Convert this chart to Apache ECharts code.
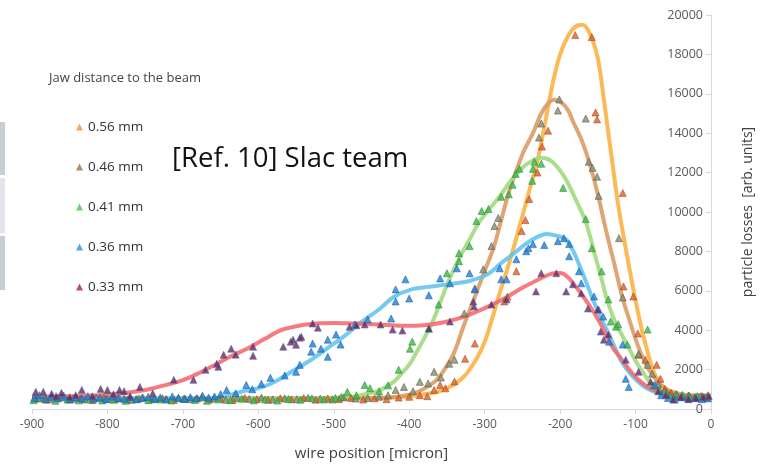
<!DOCTYPE html>
<html><head><meta charset="utf-8">
<script src="https://cdn.jsdelivr.net/npm/echarts/dist/echarts.min.js"></script>
<style>html,body{margin:0;padding:0;background:#fff}#c{width:763px;height:466px}</style>
</head><body><div id="c"></div>
<script>
const seriesNames = ['0.56 mm','0.46 mm','0.41 mm','0.36 mm','0.33 mm'];
const xTicks = [-900,-800,-700,-600,-500,-400,-300,-200,-100,0];

// fitted curves [wire position, losses]
const fit056 = [[-900,520],[-800,520],[-700,520],[-600,520],[-500,530],[-450,550],[-420,600],[-400,640],[-380,750],[-360,900],[-340,1250],[-325,1750],[-310,2600],[-300,3400],[-290,4600],[-280,5900],[-270,7100],[-260,8400],[-250,9800],[-240,11200],[-230,12600],[-220,14500],[-210,16500],[-200,18000],[-190,18900],[-180,19400],[-170,19500],[-160,19000],[-150,17800],[-143,16000],[-136,14000],[-130,12300],[-124,10600],[-117,9000],[-109,7300],[-100,5500],[-91,3900],[-84,2900],[-78,2100],[-70,1450],[-61,1050],[-50,830],[-38,720],[-20,670],[0,650]];
const fit046 = [[-900,530],[-700,530],[-500,540],[-450,560],[-420,600],[-400,720],[-390,850],[-375,1150],[-363,1500],[-350,2200],[-340,2900],[-328,4200],[-320,5000],[-310,6000],[-300,7000],[-288,8200],[-278,9600],[-268,11000],[-258,12100],[-248,13100],[-236,14000],[-225,15000],[-215,15550],[-208,15700],[-200,15600],[-190,15200],[-183,14600],[-172,13700],[-162,12600],[-150,10900],[-140,9200],[-130,7650],[-117,5600],[-108,4500],[-100,3550],[-92,2750],[-83,2050],[-72,1450],[-61,1050],[-50,850],[-35,720],[-15,680],[0,670]];
const fit041 = [[-900,540],[-600,540],[-520,560],[-490,590],[-472,640],[-455,780],[-442,900],[-430,1150],[-420,1400],[-410,1800],[-399,2300],[-390,2900],[-380,3600],[-370,4350],[-363,5000],[-355,5800],[-346,6650],[-337,7400],[-328,8050],[-318,8750],[-308,9450],[-295,10100],[-280,10800],[-265,11600],[-250,12250],[-237,12600],[-225,12750],[-212,12600],[-200,12100],[-190,11500],[-179,10600],[-166,9500],[-153,7700],[-145,6600],[-139,5700],[-130,4700],[-120,3900],[-109,3100],[-100,2450],[-91,1900],[-82,1400],[-74,1050],[-62,860],[-50,770],[-30,700],[0,680]];
const fit036 = [[-900,500],[-700,510],[-660,540],[-639,700],[-620,900],[-596,1100],[-575,1450],[-560,1800],[-547,2100],[-530,2500],[-508,3100],[-486,3700],[-464,4400],[-442,5000],[-420,5700],[-399,6050],[-375,6200],[-354,6300],[-335,6400],[-320,6500],[-301,6750],[-290,7000],[-280,7350],[-268,7700],[-258,8000],[-245,8400],[-232,8700],[-218,8880],[-205,8800],[-192,8600],[-183,8050],[-175,7350],[-166,6500],[-157,5600],[-148,4800],[-139,4080],[-130,3350],[-120,2500],[-109,1890],[-100,1500],[-91,1200],[-80,950],[-70,800],[-55,620],[-40,560],[-20,540],[0,540]];
const fit033 = [[-900,640],[-850,650],[-810,700],[-788,770],[-765,880],[-745,1000],[-720,1250],[-701,1450],[-680,1800],[-657,2250],[-635,2700],[-613,3100],[-592,3550],[-570,4000],[-550,4200],[-530,4320],[-500,4360],[-470,4340],[-440,4290],[-410,4220],[-380,4250],[-354,4400],[-330,4650],[-310,4950],[-290,5300],[-270,5700],[-250,6150],[-230,6550],[-213,6850],[-200,6900],[-190,6700],[-179,6200],[-170,5750],[-162,5300],[-152,4700],[-143,4080],[-130,3100],[-120,2600],[-113,2240],[-104,1800],[-96,1480],[-87,1200],[-78,1000],[-65,850],[-50,720],[-30,660],[0,640]];

// measured points [wire position, losses]
const pts056 = [[-895,520],[-881,470],[-866,560],[-850,480],[-836,530],[-820,450],[-805,560],[-790,500],[-774,470],[-758,540],[-742,490],[-727,560],[-712,460],[-697,520],[-681,550],[-665,480],[-650,530],[-634,460],[-618,560],[-602,500],[-587,470],[-571,540],[-556,490],[-540,560],[-524,470],[-508,530],[-493,500],[-477,560],[-461,480],[-446,540],[-430,500],[-414,580],[-400,620],[-386,700],[-376,650],[-367,970],[-359,1220],[-352,1050],[-340,1400],[-326,2550],[-313,3320],[-274,5460],[-270,5700],[-258,6990],[-251,9030],[-246,9590],[-241,10660],[-230,12000],[-224,13320],[-216,14130],[-180,18980],[-158,18880],[-153,15050],[-151,14700],[-117,10970],[-116,6220],[-103,5710],[-97,3830],[-96,2750],[-87,2500],[-72,2240],[-67,1530],[-61,1020],[-53,820],[-45,700],[-37,620],[-29,680],[-20,590],[-12,660],[-4,700]];
const pts046 = [[-892,560],[-877,500],[-861,590],[-846,520],[-830,480],[-815,570],[-800,510],[-784,550],[-768,470],[-753,590],[-737,520],[-722,480],[-706,560],[-690,500],[-675,590],[-659,530],[-643,470],[-628,560],[-612,510],[-596,580],[-581,490],[-565,540],[-549,500],[-534,570],[-518,520],[-502,480],[-487,590],[-471,530],[-455,560],[-440,620],[-428,700],[-418,970],[-407,1120],[-395,900],[-386,1380],[-375,1300],[-367,1890],[-358,1600],[-347,2300],[-340,2500],[-327,4850],[-313,6120],[-302,7090],[-291,8270],[-287,9290],[-282,9700],[-228,13780],[-225,14490],[-203,15150],[-201,15710],[-166,14740],[-162,12550],[-157,12240],[-151,11790],[-149,10820],[-122,8670],[-117,5660],[-96,2800],[-84,2240],[-78,1790],[-70,1250],[-62,900],[-54,700],[-46,760],[-38,620],[-30,680],[-22,560],[-14,640],[-6,600]];
const pts041 = [[-898,450],[-884,520],[-869,420],[-853,480],[-838,440],[-823,510],[-807,430],[-792,470],[-776,420],[-761,500],[-746,450],[-730,480],[-715,430],[-699,510],[-684,460],[-668,420],[-653,490],[-637,450],[-622,520],[-606,440],[-591,480],[-575,430],[-560,510],[-544,470],[-529,540],[-513,480],[-498,560],[-490,620],[-482,870],[-470,700],[-459,1220],[-452,1050],[-440,900],[-428,1200],[-414,1990],[-399,3060],[-396,3420],[-374,4080],[-361,5300],[-350,6890],[-334,7500],[-334,7910],[-320,8270],[-311,9540],[-304,10050],[-295,10150],[-278,10770],[-268,10900],[-263,11380],[-259,11930],[-254,12190],[-237,11580],[-236,12190],[-234,12550],[-225,12450],[-196,11220],[-166,9640],[-158,8160],[-145,6990],[-136,5560],[-133,4440],[-126,4180],[-123,4300],[-111,3270],[-84,4030],[-76,1200],[-68,950],[-58,760],[-48,650],[-38,720],[-28,600],[-18,660],[-8,580]];
const pts036 = [[-897,560],[-890,700],[-882,520],[-874,620],[-866,540],[-858,680],[-850,500],[-842,600],[-834,540],[-826,650],[-818,520],[-810,580],[-802,500],[-794,640],[-786,560],[-778,520],[-770,600],[-762,500],[-754,560],[-746,620],[-738,520],[-730,580],[-722,510],[-714,640],[-706,560],[-698,520],[-690,600],[-682,540],[-674,680],[-666,580],[-658,640],[-650,760],[-642,970],[-630,800],[-616,1220],[-608,1000],[-596,1280],[-584,1580],[-565,1700],[-550,1890],[-545,2240],[-530,2910],[-528,3320],[-517,3060],[-508,2650],[-508,3520],[-497,3780],[-491,3270],[-472,4290],[-455,4540],[-424,4590],[-418,5460],[-418,6070],[-405,6580],[-400,5610],[-374,5770],[-359,6630],[-346,6380],[-337,7140],[-320,6890],[-313,6070],[-280,7140],[-278,6580],[-271,6580],[-258,7600],[-245,8010],[-242,8160],[-236,8370],[-221,8320],[-203,8520],[-195,8670],[-188,8370],[-188,7750],[-175,6990],[-172,6380],[-155,5710],[-149,5050],[-143,4690],[-135,3420],[-117,3270],[-113,1530],[-109,1120],[-74,1220],[-66,700],[-57,560],[-48,480],[-39,600],[-30,520],[-21,560],[-12,500],[-4,540]];
const pts033 = [[-895,870],[-885,870],[-874,770],[-868,650],[-861,820],[-850,600],[-842,700],[-834,970],[-820,650],[-809,1020],[-800,970],[-792,750],[-784,970],[-778,900],[-770,650],[-757,1120],[-740,800],[-712,1480],[-686,1480],[-670,1990],[-655,2300],[-653,2140],[-646,2750],[-636,3060],[-630,2760],[-607,3160],[-607,2700],[-567,3160],[-557,3420],[-550,3260],[-545,3620],[-554,3520],[-543,3670],[-528,4340],[-521,4130],[-479,4180],[-470,4250],[-459,4290],[-438,4290],[-422,4030],[-409,3980],[-374,4080],[-346,4440],[-315,5460],[-314,5200],[-291,5300],[-271,5560],[-232,5970],[-225,6890],[-205,6890],[-192,5970],[-183,6330],[-172,5870],[-163,5100],[-150,5050],[-146,3930],[-142,3520],[-136,3780],[-113,2500],[-96,1890],[-80,1380],[-70,900],[-60,700],[-50,480],[-40,600],[-30,500],[-20,550],[-10,600],[-3,650]];

const lineColors = ['#fbb040','#d99a62','#9ed97c','#62c3f0','#f5686c'];
const markColors = ['#d9622b','#6f9584','#3cb84a','#1f7fd6','#7b2150'];
const markBorders = ['#a5471c','#7a4a2a','#2a8a35','#1a5ea8','#3f6fb5'];
const legendColors = ['#f0913d','#9a7048','#50c050','#2a90e0','#b02040'];
const fits = [fit056, fit046, fit041, fit036, fit033];
const pts = [pts056, pts046, pts041, pts036, pts033];

const series = [];
fits.forEach((f, i) => {
  series.push({type:'line', name:'fit ' + seriesNames[i], data:f, smooth:0.35, showSymbol:false, silent:true,
    lineStyle:{color:lineColors[i], width:4, opacity:0.88}, z:2});
});
pts.forEach((p, i) => {
  series.push({type:'scatter', name:seriesNames[i], data:p, symbol:'triangle', symbolSize:7,
    itemStyle:{color:markColors[i], borderColor:markBorders[i], borderWidth:0.7}, z:3});
});

const chart = echarts.init(document.getElementById('c'), null, {renderer:'canvas'});
chart.setOption({
  animation:false,
  backgroundColor:'#ffffff',
  textStyle:{fontFamily:'Open Sans'},
  grid:{left:32, right:47, top:15, bottom:57},
  xAxis:{type:'value', min:-900, max:0, interval:100,
    axisLine:{lineStyle:{color:'#d9d9d9'}},
    axisTick:{length:5, lineStyle:{color:'#d9d9d9'}},
    splitLine:{show:false},
    axisLabel:{color:'#595959', fontSize:12, margin:10, fontFamily:'Open Sans',
      customValues: xTicks},
    name:'wire position [micron]', nameLocation:'middle', nameGap:37,
    nameTextStyle:{color:'#404040', fontSize:15, fontFamily:'Open Sans'}},
  yAxis:{type:'value', position:'right', min:0, max:20000, interval:2000,
    axisLine:{show:true, lineStyle:{color:'#d9d9d9'}},
    axisTick:{show:true, inside:true, length:5, lineStyle:{color:'#d9d9d9'}},
    splitLine:{show:false},
    axisLabel:{inside:true, margin:8, color:'#595959', fontSize:12.5, fontFamily:'Open Sans',
      formatter: v => String(v)},
    name:'particle losses  [arb. units]', nameLocation:'middle', nameRotate:90, nameGap:30,
    nameTextStyle:{color:'#404040', fontSize:14, fontFamily:'Open Sans'}},
  legend:{orient:'vertical', left:71, top:114, itemWidth:7, itemHeight:7, itemGap:24,
    textStyle:{color:'#333', fontSize:13.5, lineHeight:16, fontFamily:'Open Sans'},
    data: seriesNames.map((n, i) => ({name:n, icon:'triangle', itemStyle:{color:legendColors[i], borderWidth:0}}))},
  graphic:[
    {type:'rect', left:0, top:122, shape:{width:5, height:53}, style:{fill:'#c9ced6'}},
    {type:'rect', left:0, top:178, shape:{width:5, height:55}, style:{fill:'#e3e5ea'}},
    {type:'rect', left:0, top:236, shape:{width:5, height:54}, style:{fill:'#c9ced6'}},
    {type:'text', left:49, top:72, style:{text:'Jaw distance to the beam', fill:'#444', fontSize:13, fontFamily:'Open Sans'}},
    {type:'text', left:172, top:145, style:{text:'[Ref. 10] Slac team', fill:'#111', fontSize:27.5, fontFamily:'Open Sans'}}
  ],
  series: series
});
</script></body></html>
